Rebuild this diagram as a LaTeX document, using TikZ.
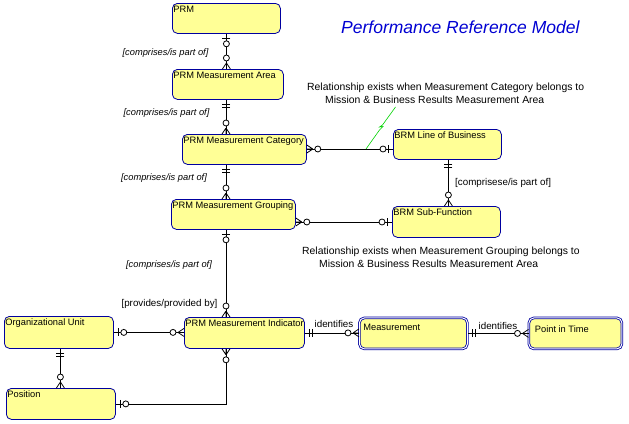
\documentclass[tikz,border=0pt]{standalone}
\usepackage{fontspec}
\setmainfont{Liberation Sans}
\usetikzlibrary{calc}
\definecolor{boxfill}{RGB}{255,255,150}
\definecolor{boxline}{RGB}{0,0,160}
\definecolor{titleblue}{RGB}{0,0,210}
\definecolor{notegreen}{RGB}{0,210,0}
\tikzset{
  ent/.style={draw=boxline, fill=boxfill, rounded corners=5pt, line width=0.8pt, anchor=north west, inner sep=0pt},
  dent/.style={ent, double=white, double distance=1pt},
  btext/.style={anchor=north west, inner xsep=1.2pt, inner ysep=2.6pt, font=\fontsize{9.3}{10}\selectfont},
  lab/.style={inner sep=0pt, font=\fontsize{9.8}{11}\selectfont},
  ilab/.style={inner sep=0pt, font=\fontsize{9.3}{11}\selectfont\itshape},
  note/.style={inner sep=0pt, anchor=west, font=\fontsize{10.4}{12}\selectfont},
  conn/.style={line width=0.8pt, black},
  crowO/.pic={
    \draw[conn] (0,-4) -- (6,0) (0,4) -- (6,0) (0,0) -- (6,0);
    \draw[conn, fill=white] (11,0) circle (3);
  },
  barO/.pic={
    \draw[conn] (5,-4) -- (5,4);
    \draw[conn, fill=white] (10,0) circle (3);
  },
  dbar/.pic={
    \draw[conn] (5,-4) -- (5,4) (8,-4) -- (8,4);
  }
}
\begin{document}
\begin{tikzpicture}[x=1pt, y=-1pt]
\useasboundingbox (0,0) rectangle (629,423);
\coordinate (spine) at (226,0);

% entities
\node[ent, minimum width=108pt, minimum height=30pt] (prm) at (172,3) {};
\node[btext] (prmt) at (prm.north west) {PRM};
\node[ent, minimum width=111pt, minimum height=30pt] (area) at (172,69) {};
\node[btext] (areat) at (area.north west) {PRM Measurement Area};
\node[ent, minimum width=124pt, minimum height=30pt] (cat) at (182,134) {};
\node[btext] (catt) at (cat.north west) {PRM Measurement Category};
\node[ent, minimum width=108pt, minimum height=30pt] (lob) at (393,129) {};
\node[btext] (lobt) at (lob.north west) {BRM Line of Business};
\node[ent, minimum width=124pt, minimum height=30pt] (grp) at (171,199) {};
\node[btext] (grpt) at (grp.north west) {PRM Measurement Grouping};
\node[ent, minimum width=108pt, minimum height=31pt] (sub) at (392,206) {};
\node[btext] (subt) at (sub.north west) {BRM Sub-Function};
\node[ent, minimum width=120pt, minimum height=31pt] (ind) at (184,317) {};
\node[btext] (indt) at (ind.north west) {PRM Measurement Indicator};
\node[dent, minimum width=108pt, minimum height=31pt] (meas) at (359,317.5) {};
\node[btext] (meast) at ($(meas.north west)+(3,4)$) {Measurement};
\node[dent, minimum width=93pt, minimum height=31pt] (pit) at (528.5,317.5) {};
\node[btext] (pitt) at ($(pit.north west)+(5,5)$) {Point in Time};
\node[ent, minimum width=109pt, minimum height=32pt] (org) at (4,316) {};
\node[btext] (orgt) at (org.north west) {Organizational Unit};
\node[ent, minimum width=109pt, minimum height=31pt] (pos) at (6,388) {};
\node[btext] (post) at (pos.north west) {Position};

% title
\node[inner sep=0pt, anchor=west, text=titleblue, font=\fontsize{17.5}{20}\selectfont\itshape] (title) at (341,27) {Performance Reference Model};

% connectors
\draw[conn] (prm.south) -- (prm.south |- area.north);
\pic[rotate=-90] at (prm.south) {barO};
\pic[rotate=90] at (prm.south |- area.north) {crowO};

\draw[conn] (area.south -| spine) -- (cat.north -| spine);
\pic[rotate=-90] at (area.south -| spine) {dbar};
\pic[rotate=90] at (cat.north -| spine) {crowO};

\coordinate (c1) at ($(cat.north east)+(0,15)$);
\draw[conn] (c1) -- (c1 -| lob.west);
\pic at (c1) {crowO};
\pic[rotate=180] at (c1 -| lob.west) {barO};

\draw[conn] (cat.south -| spine) -- (grp.north -| spine);
\pic[rotate=-90] at (cat.south -| spine) {dbar};
\pic[rotate=90] at (grp.north -| spine) {crowO};

\coordinate (g1) at ($(grp.north east)+(0,23)$);
\draw[conn] (g1) -- (g1 -| sub.west);
\pic at (g1) {crowO};
\pic[rotate=180] at (g1 -| sub.west) {barO};

\coordinate (l1) at ($(lob.south)+(1,0)$);
\draw[conn] (l1) -- (l1 |- sub.north);
\pic[rotate=-90] at (l1) {dbar};
\pic[rotate=90] at (l1 |- sub.north) {crowO};

\draw[conn] (grp.south -| spine) -- (ind.north -| spine);
\pic[rotate=-90] at (grp.south -| spine) {barO};
\pic[rotate=90] at (ind.north -| spine) {crowO};

\draw[conn] (ind.east) -- (ind.east -| meas.west);
\pic at (ind.east) {dbar};
\pic[rotate=180] at (ind.east -| meas.west) {crowO};

\draw[conn] (meas.east) -- (meas.east -| pit.west);
\pic at (meas.east) {dbar};
\pic[rotate=180] at (meas.east -| pit.west) {crowO};

\draw[conn] (org.east) -- (org.east -| ind.west);
\pic at (org.east) {barO};
\pic[rotate=180] at (org.east -| ind.west) {crowO};

\coordinate (o1) at ($(org.south)+(1.5,0)$);
\draw[conn] (o1) -- (o1 |- pos.north);
\pic[rotate=-90] at (o1) {dbar};
\pic[rotate=90] at (o1 |- pos.north) {crowO};

\draw[conn] (pos.east) -| (ind.south -| spine);
\pic at (pos.east) {barO};
\pic[rotate=-90] at (ind.south -| spine) {crowO};

% labels
\node[ilab] (l1t) at (165.5,53) {[comprises/is part of]};
\node[ilab] (l2t) at (166.5,113) {[comprises/is part of]};
\node[ilab] (l3t) at (164,178) {[comprises/is part of]};
\node[ilab] (l4t) at (169,265) {[comprises/is part of]};
\node[lab] (l5t) at (169.5,304) {[provides/provided by]};
\node[lab, anchor=west] (l6t) at (455,183) {[comprisese/is part of]};
\node[lab] (id1) at (334,324) {identifies};
\node[lab] (id2) at (498,326) {identifies};

\node[note] (n1a) at (307,88) {Relationship exists when Measurement Category belongs to};
\node[note] (n1b) at (325,100) {Mission \& Business Results Measurement Area};
\node[note] (n2a) at (302,252) {Relationship exists when Measurement Grouping belongs to};
\node[note] (n2b) at (319,264) {Mission \& Business Results Measurement Area};

% green note link
\coordinate (gtop) at (395.5,107);
\coordinate (gbot) at (366,149);
\draw[notegreen, line width=0.6pt] (gtop) -- (382.5,125) -- (379.5,127) -- (383,126.5) -- (379.5,130) -- (gbot);
\end{tikzpicture}
\end{document}
